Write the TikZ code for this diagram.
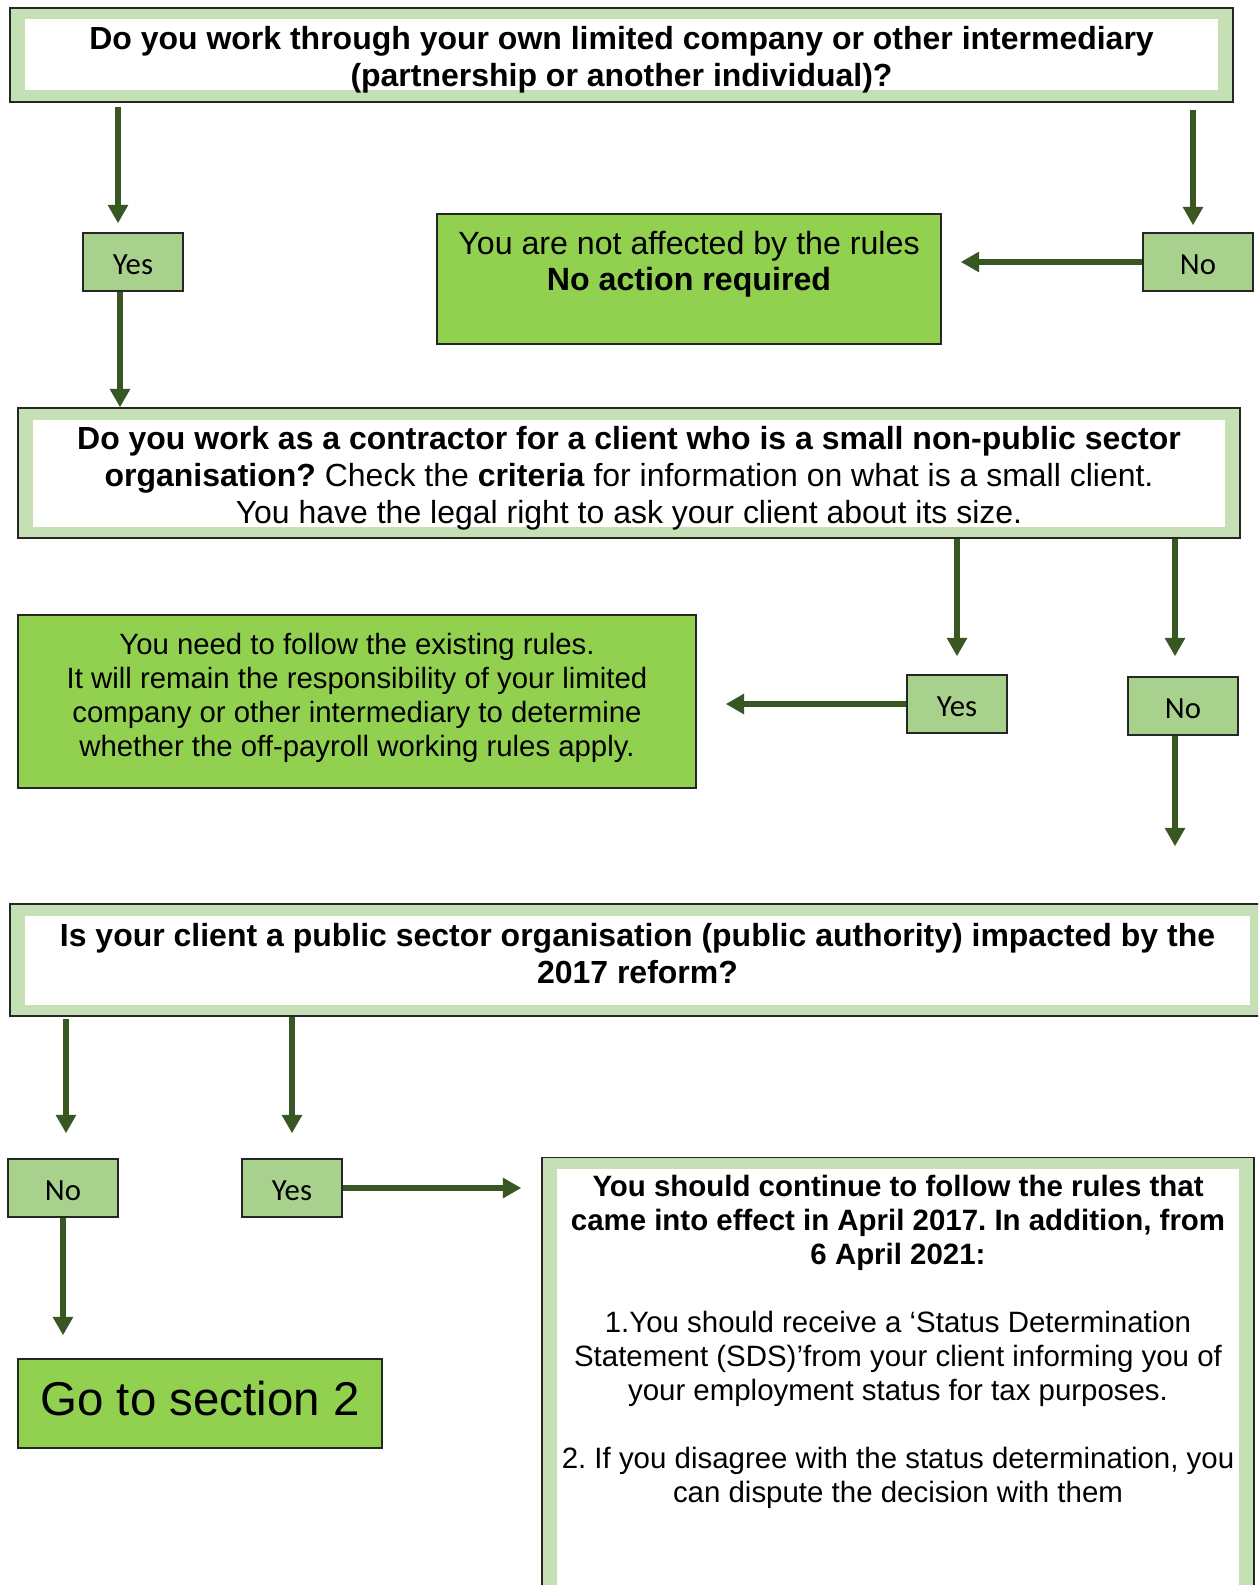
\documentclass[tikz,border=0pt]{standalone}
\usepackage{fontspec}
\setmainfont{Liberation Sans}
\newfontfamily\calibri{Carlito}
\usetikzlibrary{arrows.meta}
\definecolor{framegreen}{HTML}{C5E0B4}
\definecolor{answergreen}{HTML}{A9D18E}
\definecolor{resultgreen}{HTML}{92D050}
\definecolor{arrowgreen}{HTML}{385723}
\definecolor{edge}{HTML}{262626}
\frenchspacing

\begin{document}
\begin{tikzpicture}[
  qbox/.style={draw=edge, line width=0.8pt, fill=framegreen, inner sep=0pt, align=center,
    font=\fontsize{18.2}{21}\selectfont,
    path picture={\fill[white] ([shift={(0.3cm,0.23cm)}]path picture bounding box.south west) rectangle ([shift={(-0.3cm,-0.23cm)}]path picture bounding box.north east);}},
  answer/.style={draw=edge, line width=0.8pt, fill=answergreen, minimum height=1.16cm, inner sep=0pt,
    text height=14.5pt, text depth=0pt, font=\calibri\fontsize{17.5}{20}\selectfont},
  result/.style={draw=edge, line width=0.8pt, fill=resultgreen, inner sep=0pt, align=center},
  flow/.style={arrowgreen, line width=0.13cm, -{Triangle[length=0.37cm,width=0.39cm]}}
]
\useasboundingbox (0,0) rectangle (25.16,-31.7);
\clip (0,0) rectangle (25.16,-31.7);

\node[qbox, minimum width=24.46cm, minimum height=1.88cm] (q1) at (12.43,-1.10)
  {\rule{0pt}{18.8pt}\textbf{Do you work through your own limited company or other intermediary}\\
   \textbf{(partnership or another individual)?}};
\node[answer, minimum width=2cm] (yes1) at (2.66,-5.24) {Yes};
\node[answer, minimum width=2.2cm] (no1) at (23.96,-5.24) {No};
\node[result, minimum width=10.08cm, minimum height=2.6cm, font=\fontsize{18.3}{20.5}\selectfont] (na) at (13.78,-5.58)
  {You are not affected by the rules\\ \textbf{No action required}\\ \mbox{}};

\node[qbox, minimum width=24.44cm, minimum height=2.6cm] (q2) at (12.58,-9.46)
  {\rule{0pt}{18.8pt}\textbf{Do you work as a contractor for a client who is a small non-public sector}\\
   \textbf{organisation?} Check the \textbf{criteria} for information on what is a small client.\\
   You have the legal right to ask your client about its size.};
\node[answer, minimum width=2cm] (yes2) at (19.14,-14.08) {Yes};
\node[answer, minimum width=2.2cm] (no2) at (23.66,-14.12) {No};
\node[result, minimum width=13.56cm, minimum height=3.46cm, font=\fontsize{16.7}{19.4}\selectfont] (green2) at (7.14,-14.03)
  {You need to follow the existing rules.\\
   It will remain the responsibility of your limited\\
   company or other intermediary to determine\\
   whether the off-payroll working rules apply.\rule[-7.6pt]{0pt}{0pt}};

\node[qbox, minimum width=25.1cm, minimum height=2.24cm] (q3) at (12.75,-19.2)
  {\textbf{Is your client a public sector organisation (public authority) impacted by the}\\
   \textbf{2017 reform?}\rule[-8pt]{0pt}{8pt}};
\node[answer, minimum width=2.2cm] (no3) at (1.26,-23.76) {No};
\node[answer, minimum width=2cm] (yes3) at (5.84,-23.76) {Yes};
\node[result, minimum width=7.28cm, minimum height=1.78cm, text depth=5.7pt, font=\fontsize{27}{32}\selectfont] (go2) at (4.0,-28.07)
  {Go to section 2};
\node[qbox, anchor=north, minimum width=14.24cm, inner ysep=0.34cm, font=\fontsize{16.75}{19.4}\selectfont] (final) at (17.96,-23.14)
  {\textbf{You should continue to follow the rules that}\\
   \textbf{came into effect in April 2017. In addition, from}\\
   \textbf{6 April 2021:}\\[19.4pt]
   1.You should receive a ‘Status Determination\\
   Statement (SDS)’from your client informing you of\\
   your employment status for tax purposes.\\[19.4pt]
   2. If you disagree with the status determination, you\\
   can dispute the decision with them\\[3cm]
   \mbox{}};

\draw[flow] ([xshift=-3mm,yshift=-0.8mm]yes1.north |- q1.south) -- ([xshift=-3mm,yshift=1.8mm]yes1.north);
\draw[flow] ([xshift=-1mm,yshift=-1.4mm]no1.north |- q1.south) -- ([xshift=-1mm,yshift=1.4mm]no1.north);
\draw[flow] (no1.west) -- ([xshift=3.8mm]na.east |- no1.west);
\draw[flow] ([xshift=-2.6mm]yes1.south) -- ([xshift=-2.6mm]yes1.south |- q2.north);
\draw[flow] (yes2.north |- q2.south) -- ([yshift=3.6mm]yes2.north);
\draw[flow] ([xshift=-1.6mm]no2.north |- q2.south) -- ([xshift=-1.6mm,yshift=4mm]no2.north);
\draw[flow] (yes2.west) -- ([xshift=5.8mm]green2.east |- yes2.west);
\draw[flow] ([xshift=-1.6mm]no2.south) -- ([xshift=-1.6mm,yshift=11.4mm]no2.south |- q3.north);
\draw[flow] ([xshift=0.6mm,yshift=-0.4mm]no3.north |- q3.south) -- ([xshift=0.6mm,yshift=5mm]no3.north);
\draw[flow] (yes3.north |- q3.south) -- ([yshift=5mm]yes3.north);
\draw[flow] (yes3.east) -- ([xshift=-4mm]final.west |- yes3.east);
\draw[flow] (no3.south) -- ([yshift=4.6mm]no3.south |- go2.north);
\end{tikzpicture}
\end{document}
